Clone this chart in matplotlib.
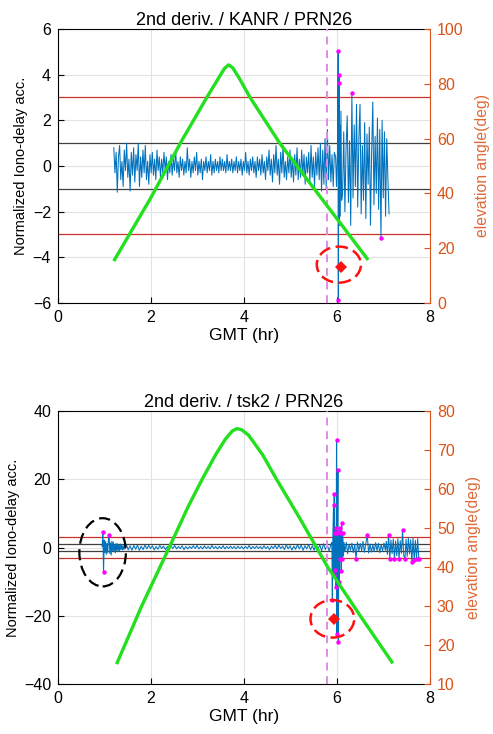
import matplotlib

matplotlib.use("Agg")

import matplotlib.pyplot as plt
import numpy as np
from matplotlib.patches import Ellipse

plt.rcParams["font.family"] = ["Liberation Sans", "DejaVu Sans"]

BLUE = "#0072BD"
ORANGE = "#D95319"
GREEN = "#22E01E"
MAGENTA = "#FF00FF"
RED_LINE = "#C8302A"
VLINE = "#E08AE8"

# ---- top panel: KANR ----
top_title = "2nd deriv. / KANR / PRN26"
top_a_start, top_a_step = 1.20, 0.0251
top_a_vals = [
    0.8, -0.3, 0.6, -1.15, 0.4, 0.9, -0.6, 0.2, -0.9, 0.7, -0.2, 1.0, -0.5, 0.3, -1.1, 0.6, -0.4, 0.8, -0.7, 0.5,
    -0.2, 1.0, -0.9, 0.4, -0.5, 0.7, -0.3, 0.9, -0.6, 0.2, -0.8, 0.5, -0.3, 0.6, -0.4, 0.3, -0.6, 0.7, -0.2, 0.4,
    -0.5, 0.3, -0.3, 0.6, -0.2, 0.4, -0.6, 0.2, -0.3, 0.5, -0.4, 0.3, -0.2, 0.7, -0.3, 0.2, -0.5, 0.4, -0.2, 0.3,
    -0.4, 0.2, -0.3, 0.8, -0.2, 0.3, -0.5, 0.2, -0.3, 0.4, -0.2, 0.6, -0.4, 0.2, -0.3, 0.3, -0.6, 0.2, -0.2, 0.4,
    -0.3, 0.2, -0.2, 0.5, -0.4, 0.2, -0.3, 0.3, -0.2, 0.2, -0.3, 0.4, -0.2, 0.3, -0.2, 0.2, -0.3, 0.5, -0.2, 0.2,
    -0.2, 0.3, -0.3, 0.2, -0.2, 0.4, -0.3, 0.2, -0.2, 0.3, -0.4, 0.2, -0.2, 0.6, -0.3, 0.2, -0.4, 0.3, -0.2, 0.4,
    -0.3, 0.2, -0.5, 0.4, -0.2, 0.3, -0.4, 0.5, -0.3, 0.2, -0.6, 0.4, -0.2, 0.7, -0.4, 0.3, -0.7, 0.5, -0.3, 0.9,
    -0.4, 0.3, -0.8, 0.6, -0.3, 0.9, -0.5, 0.2, -0.6, 0.4, -0.3, 0.7, -0.5, 0.3, -0.7, 0.5, -0.4, 0.8, -0.6, 0.3,
    -0.5, 0.7, -0.4, 0.5, -0.8, 0.4, -0.3, 0.6, -0.7, 0.9, -0.5, 0.4, -0.9, 0.6, -0.4, 0.8, -0.6, 1.0, -1.1, 0.7,
    -0.8, 1.2, -1.0, 1.6, -0.6, 0.9, -0.7, 0.5, -0.9, 0.6,
]
top_b_t = [5.97, 5.99, 6.01, 6.025, 6.03, 6.035, 6.04, 6.045, 6.05, 6.06, 6.07, 6.085, 6.10]
top_b_vals = [0.4, -0.9, 0.6, 5.05, -5.85, 3.65, -2.0, 4.0, -2.6, 1.8, -2.2, 2.4, -1.5]
top_c_start, top_c_step = 6.12, 0.025
top_c_vals = [
    -1.2, 1.5, -2.0, 0.8, 2.2, -1.6, 1.1, -2.6, 3.2, -1.4, 1.8, -0.9, 2.7, -1.8, 1.2, 2.7, -2.1, 0.9, -1.5, 1.9,
    -2.3, 1.4, -0.8, 1.7, -2.6, 0.6, 2.8, -1.7, 1.3, -1.2, 2.1, -1.9, 1.6, -3.15, 2.0, -1.4, 1.5, -2.2, 1.2, -0.6,
    -2.1,
]
top_elev_t = [1.20, 2.00, 2.65, 3.21, 3.45, 3.58, 3.67, 3.76, 3.90, 4.12, 4.77, 5.50, 6.10, 6.67]
top_elev = [15.3, 38.5, 58.9, 75.3, 82.0, 85.6, 86.9, 85.8, 82.0, 75.3, 58.3, 41.9, 28.5, 15.7]
top_event = (6.08, -4.41)
top_ring = (6.04, -4.32, 0.95, 1.58)
top_ylim = (-6, 6)
top_elim = (0, 100)
top_yticks = [-6, -4, -2, 0, 2, 4, 6]
top_eticks = [0, 20, 40, 60, 80, 100]

# ---- bottom panel: tsk2 ----
bot_title = "2nd deriv. / tsk2 / PRN26"
bot_a_start, bot_a_step = 0.95, 0.015
bot_a_vals = [
    0.3, 4.5, -7.3, 2.2, -1.5, 1.8, -2.0, 1.2, -1.6, 2.5, 3.7, -1.8, 1.4, -2.2, 1.9, -1.0, 1.6, -1.3, 0.9, -1.5,
    1.2, -0.8, 1.1, -1.2, 0.7, -0.9, 1.0, -0.6, 0.8, -0.7, 0.5, -0.6, 0.7, -0.4,
]
bot_m_start, bot_m_step = 1.47, 0.04
bot_m_vals = [
    0.9, -0.7, 0.5, -0.8, 0.6, -0.5, 0.7, -0.8, 0.4, -0.6, 0.7, -0.4, 0.6, -0.3, 0.5, -0.7, 0.3, -0.5, 0.6, -0.3,
    0.4, -0.6, 0.3, -0.4, 0.5, -0.3, 0.6, -0.4, 0.3, -0.3, 0.5, -0.6, 0.3, -0.4, 0.3, -0.3, 0.5, -0.3, 0.6, -0.4,
    0.3, -0.4, 0.5, -0.3, 0.3, -0.4, 0.6, -0.3, 0.3, -0.4, 0.3, -0.3, 0.5, -0.4, 0.3, -0.3, 0.4, -0.3, 0.3, -0.4,
    0.4, -0.3, 0.3, -0.4, 0.3, -0.3, 0.6, -0.4, 0.3, -0.3, 0.4, -0.3, 0.3, -0.4, 0.5, -0.3, 0.3, -0.6, 0.4, -0.3,
    0.6, -0.4, 0.7, -0.3, 0.4, -0.6, 0.8, -0.4, 0.5, -0.7, 0.4, -0.5, 0.8, -0.4, 0.7, -0.8, 0.5, -0.4, 0.9, -0.7,
    0.5, -0.8, 1.0, -0.5, 0.7, -0.9, 1.1, -0.6, 0.8, -1.0, 0.9,
]
bot_s_t = [5.89, 5.90, 5.91, 5.925, 5.935, 5.94, 5.95, 5.955, 5.96, 5.97, 5.98, 5.99, 6.00, 6.01,
           6.02, 6.03, 6.04, 6.05, 6.06, 6.07, 6.08, 6.09, 6.10, 6.11, 6.12, 6.13, 6.14, 6.15]
bot_s_vals = [1.5, -15.3, 2.5, 12.5, -8.0, 15.7, -2.0, 4.2, -6.5, 5.7, -11.6, 31.4, -25.4, 4.2,
              22.6, -27.7, 4.5, -10.2, 5.7, -3.5, 4.2, -7.0, 7.1, -3.3, 4.2, 2.0, -2.5, 1.5]
bot_l_start, bot_l_step = 6.17, 0.03
bot_l_vals = [
    -1.2, 1.5, -1.8, 1.0, -0.8, 1.3, -1.5, 0.9, -3.3, 1.6, -1.0, 1.2, -0.9, 1.8, -1.4, 1.1, 3.8, -1.6, 1.0, -1.3,
    0.8, -1.1, 1.4, -0.9, 1.2, -1.5, 0.9, -1.0, 1.3, -0.8,
]
bot_e_start, bot_e_step = 7.06, 0.025
bot_e_vals = [
    1.8, -2.0, 3.8, -3.3, 2.2, -1.8, 2.5, -3.3, 1.9, -2.4, 2.6, -3.3, 2.0, -1.7, 5.0, -2.2, -3.5, 2.4, -2.6, 2.8,
    -1.9, 2.3, -4.3, 2.7, -3.8, 2.1, -3.5, 2.6, -3.5,
]
bot_elev_t = [1.26, 1.80, 2.40, 2.80, 3.10, 3.40, 3.60, 3.75, 3.85, 3.95, 4.10, 4.40, 4.70, 5.20, 5.80, 6.50, 7.20]
bot_elev = [15.1, 30.0, 45.2, 55.5, 62.5, 69.0, 72.8, 74.9, 75.5, 75.2, 73.8, 68.8, 62.5, 52.5, 40.0, 27.5, 15.3]
bot_event = (5.93, -20.9)
bot_ring = (5.90, -20.9, 0.94, 11.0)
bot_black_ring = (0.96, -1.4, 1.0, 20.0)
bot_ylim = (-40, 40)
bot_elim = (10, 80)
bot_yticks = [-40, -20, 0, 20, 40]
bot_eticks = [10, 20, 30, 40, 50, 60, 70, 80]

alarm_time = 5.78
thresh_inner = 1.0
thresh_outer = 3.0


def _regular(start, step, vals):
    return start + step * np.arange(len(vals)), np.asarray(vals, dtype=float)


def _series(parts):
    ts, vs = [], []
    for t, v in parts:
        ts.append(np.asarray(t, dtype=float))
        vs.append(np.asarray(v, dtype=float))
    return np.concatenate(ts), np.concatenate(vs)


def _draw_panel(ax, t, v, elev_t, elev, title, ylim, yticks, elim, eticks, event, ring, black_ring=None):
    ax.set_axisbelow(True)
    ax.grid(True, color="#e3e3e3", linewidth=0.8)
    for y in (thresh_inner, -thresh_inner):
        ax.axhline(y, color="#404040", linewidth=0.9, zorder=1)
    for y in (thresh_outer, -thresh_outer):
        ax.axhline(y, color=RED_LINE, linewidth=0.9, zorder=1)
    ax.plot(t, v, color=BLUE, linewidth=0.75, zorder=2)
    out = np.abs(v) > thresh_outer
    ax.plot(t[out], v[out], "o", color=MAGENTA, markersize=3.2, markeredgewidth=0, zorder=3)
    ax.axvline(alarm_time, color=VLINE, linewidth=1.4, linestyle=(0, (4, 3)), zorder=3)
    ax.plot(event[0], event[1], "D", color="#FF1010", markersize=6, markeredgewidth=0, zorder=4)
    ax.add_patch(Ellipse(ring[:2], ring[2], ring[3], fill=False, edgecolor="#FF1010",
                         linewidth=1.8, linestyle=(0, (5, 2.2)), zorder=4))
    if black_ring is not None:
        ax.add_patch(Ellipse(black_ring[:2], black_ring[2], black_ring[3], fill=False, edgecolor="black",
                             linewidth=1.6, linestyle=(0, (5, 2.5)), zorder=4))

    ax.set_xlim(0, 8)
    ax.set_ylim(*ylim)
    ax.set_xticks([0, 2, 4, 6, 8])
    ax.set_yticks(yticks)
    ax.tick_params(direction="in", length=4, labelsize=11.5, pad=5)
    ax.set_title(title, fontsize=13, pad=3)
    ax.set_xlabel("GMT (hr)", fontsize=12.5, labelpad=2)
    ax.set_ylabel("Normalized Iono-delay acc.", fontsize=10.5, labelpad=3)
    ax.spines["right"].set_visible(False)

    ax2 = ax.twinx()
    ax2.plot(elev_t, elev, color=GREEN, linewidth=2.4, solid_capstyle="butt", zorder=5)
    ax2.set_ylim(*elim)
    ax2.set_yticks(eticks)
    ax2.tick_params(axis="y", direction="in", length=4, colors=ORANGE, labelsize=11.5, pad=5)
    ax2.spines["right"].set_color(ORANGE)
    for side in ("left", "top", "bottom"):
        ax2.spines[side].set_visible(False)
    ax2.set_ylabel("elevation angle(deg)", color="#DE6A3A", fontsize=11.3, labelpad=8)
    return ax2


def main():
    fig = plt.figure(figsize=(4.93, 7.34), dpi=100)
    ax_top = fig.add_axes([0.1176, 0.5872, 0.7546, 0.3733])
    ax_bot = fig.add_axes([0.1176, 0.0681, 0.7546, 0.3719])

    t_top, v_top = _series([
        _regular(top_a_start, top_a_step, top_a_vals),
        (top_b_t, top_b_vals),
        _regular(top_c_start, top_c_step, top_c_vals),
    ])
    _draw_panel(ax_top, t_top, v_top, top_elev_t, top_elev, top_title, top_ylim, top_yticks,
                top_elim, top_eticks, top_event, top_ring)

    t_bot, v_bot = _series([
        _regular(bot_a_start, bot_a_step, bot_a_vals),
        _regular(bot_m_start, bot_m_step, bot_m_vals),
        (bot_s_t, bot_s_vals),
        _regular(bot_l_start, bot_l_step, bot_l_vals),
        _regular(bot_e_start, bot_e_step, bot_e_vals),
    ])
    _draw_panel(ax_bot, t_bot, v_bot, bot_elev_t, bot_elev, bot_title, bot_ylim, bot_yticks,
                bot_elim, bot_eticks, bot_event, bot_ring, bot_black_ring)

    fig.savefig("out.png", dpi=100)
    plt.close(fig)


if __name__ == "__main__":
    main()
